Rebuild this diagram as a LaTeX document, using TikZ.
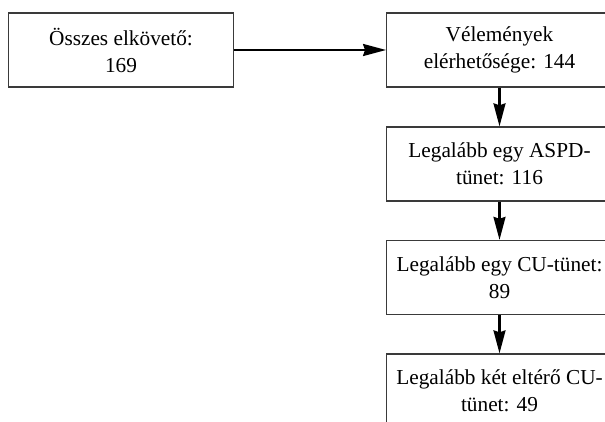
\documentclass[tikz,border=0pt]{standalone}
\usepackage{fontspec}
\setmainfont{Liberation Serif}
\usetikzlibrary{arrows.meta}
\definecolor{boxline}{HTML}{3A3A3A}
\tikzset{
  flowbox/.style={draw=boxline, line width=1.3pt, fill=white, minimum width=225.6pt, minimum height=74pt,
    inner sep=0pt, align=center, font=\fontsize{21.3}{27}\selectfont},
  flowarrow/.style={line width=2.2pt, -{Stealth[length=23pt, width=12pt, inset=2pt]}}
}
\begin{document}
\begin{tikzpicture}[x=1pt, y=-1pt]
\clip (0,0) rectangle (605,422);
\fill[white] (0,0) rectangle (605,422);
\node[flowbox] (all) at (121,50) {Összes elkövető:\\169};
\node[flowbox] (op) at (499.5,50) {Vélemények\\elérhetősége: 144};
\node[flowbox] (aspd) at (499.5,164) {Legalább egy ASPD-\\tünet: 116};
\node[flowbox] (cu1) at (499.5,277.5) {Legalább egy CU-tünet:\\89};
\node[flowbox] (cu2) at (499.5,391) {Legalább két eltérő CU-\\tünet: 49};
\draw[flowarrow] (all.east) -- (op.west);
\draw[flowarrow] (op.south) -- (aspd.north);
\draw[flowarrow] (aspd.south) -- (cu1.north);
\draw[flowarrow] (cu1.south) -- (cu2.north);
\end{tikzpicture}
\end{document}
